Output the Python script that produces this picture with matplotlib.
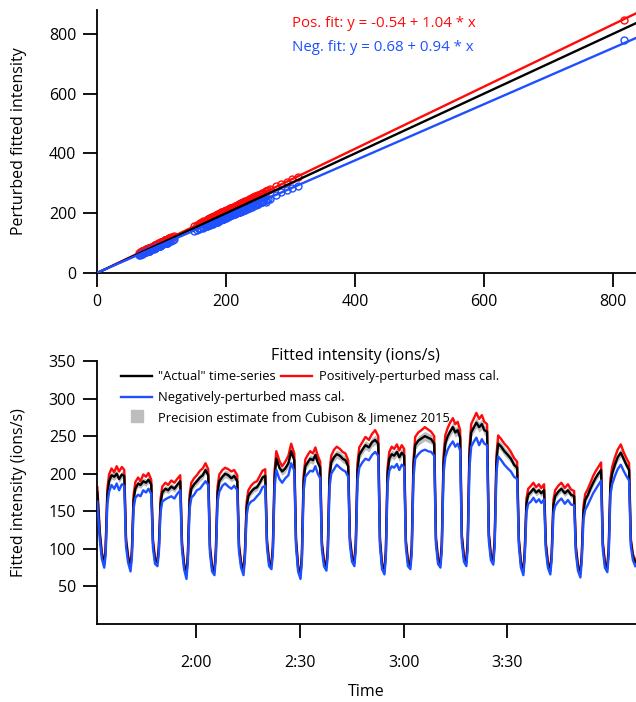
import numpy as np
import matplotlib
matplotlib.use("Agg")
import matplotlib.pyplot as plt
from matplotlib.lines import Line2D
from matplotlib.ticker import FuncFormatter

plt.rcParams['font.family'] = ['Open Sans', 'DejaVu Sans']

# time in minutes after midnight (one row per cycle)
time_min = [
    91.3, 92.0, 92.6,
    93.3, 93.7, 94.2, 94.7, 95.4, 96.2, 96.9, 97.6, 98.4, 99.1, 99.6, 100.2,
    100.9, 101.3, 101.8, 102.3, 103.1, 103.8, 104.6, 105.4, 106.1, 106.9, 107.4, 108.0,
    108.7, 109.1, 109.6, 110.1, 111.0, 111.8, 112.7, 113.6, 114.4, 115.3, 115.8, 116.4,
    117.1, 117.5, 118.0, 118.5, 119.3, 120.1, 121.0, 121.8, 122.6, 123.4, 123.9, 124.5,
    125.2, 125.6, 126.1, 126.6, 127.5, 128.3, 129.2, 130.1, 130.9, 131.8, 132.3, 132.9,
    133.6, 134.0, 134.5, 135.0, 135.8, 136.6, 137.5, 138.3, 139.1, 139.9, 140.4, 141.0,
    141.7, 142.1, 142.6, 143.1, 144.0, 144.8, 145.7, 146.6, 147.4, 148.3, 148.8, 149.4,
    150.1, 150.5, 151.0, 151.5, 152.2, 152.9, 153.7, 154.4, 155.1, 155.8, 156.3, 156.9,
    157.6, 158.0, 158.5, 159.0, 159.8, 160.6, 161.5, 162.3, 163.1, 163.9, 164.4, 165.0,
    165.7, 166.1, 166.6, 167.1, 168.0, 168.9, 169.9, 170.8, 171.7, 172.6, 173.1, 173.7,
    174.4, 174.8, 175.3, 175.8, 176.5, 177.2, 178.0, 178.7, 179.4, 180.1, 180.6, 181.2,
    181.9, 182.3, 182.8, 183.3, 184.2, 185.1, 186.1, 187.0, 187.9, 188.8, 189.3, 189.9,
    190.6, 191.0, 191.5, 192.0, 192.7, 193.4, 194.2, 194.9, 195.6, 196.3, 196.8, 197.4,
    198.1, 198.5, 199.0, 199.5, 200.3, 201.0, 201.8, 202.6, 203.3, 204.1, 204.6, 205.2,
    205.9, 206.3, 206.8, 207.3, 208.2, 209.1, 210.1, 211.0, 211.9, 212.8, 213.3, 213.9,
    214.6, 215.0, 215.5, 216.0, 216.8, 217.5, 218.3, 219.1, 219.8, 220.6, 221.1, 221.7,
    222.4, 222.8, 223.3, 223.8, 224.7, 225.6, 226.6, 227.5, 228.4, 229.3, 229.8, 230.4,
    231.1, 231.5, 232.0, 232.5, 233.3, 234.0, 234.8, 235.6, 236.3, 237.1, 237.6, 238.2,
    238.9, 239.3, 239.8, 240.3, 241.1, 241.9, 242.8, 243.6, 244.4, 245.2, 245.7, 246.3,
    247.0,
]

actual = [
    175, 120, 92,
    80, 98, 172, 190, 198, 196, 200, 193, 199, 197, 110, 88,
    75, 95, 165, 180, 187, 185, 190, 188, 192, 186, 108, 85,
    82, 100, 160, 175, 180, 178, 183, 180, 185, 190, 105, 78,
    66, 90, 165, 180, 186, 190, 195, 198, 205, 198, 100, 75,
    70, 95, 175, 190, 196, 200, 198, 194, 197, 190, 102, 80,
    70, 92, 155, 170, 176, 180, 182, 188, 195, 197, 108, 82,
    78, 100, 195, 220, 208, 203, 207, 214, 230, 218, 110, 75,
    65, 90, 190, 210, 215, 220, 218, 225, 215, 208, 105, 82,
    76, 98, 195, 215, 222, 226, 224, 220, 218, 210, 112, 88,
    82, 105, 205, 225, 232, 238, 235, 242, 245, 240, 110, 78,
    71, 95, 200, 220, 226, 224, 229, 222, 228, 224, 108, 82,
    78, 100, 210, 238, 244, 247, 250, 248, 246, 240, 112, 85,
    80, 105, 215, 240, 250, 256, 262, 255, 258, 248, 115, 88,
    82, 108, 225, 255, 262, 268, 262, 266, 258, 256, 118, 90,
    84, 110, 215, 240, 236, 230, 225, 220, 212, 208, 110, 80,
    70, 95, 160, 172, 176, 180, 175, 178, 174, 178, 105, 80,
    71, 92, 158, 170, 176, 180, 174, 178, 172, 170, 100, 76,
    67, 90, 150, 165, 172, 180, 188, 195, 200, 205, 105, 80,
    74, 98, 185, 200, 212, 222, 228, 220, 212, 205, 110, 90,
    82,
]

pos_pert = [
    182, 124, 95,
    83, 102, 180, 199, 207, 202, 210, 203, 209, 205, 115, 91,
    78, 99, 172, 189, 195, 190, 199, 196, 201, 192, 112, 88,
    85, 104, 167, 183, 188, 185, 191, 188, 193, 198, 109, 81,
    68, 93, 172, 188, 194, 198, 204, 207, 214, 206, 104, 78,
    72, 98, 183, 199, 205, 208, 206, 203, 205, 198, 106, 83,
    72, 95, 162, 178, 184, 188, 190, 197, 204, 206, 112, 85,
    81, 104, 204, 230, 217, 210, 216, 224, 240, 227, 114, 78,
    67, 93, 198, 219, 225, 230, 227, 235, 224, 216, 109, 85,
    79, 102, 203, 224, 232, 236, 233, 229, 227, 218, 116, 91,
    85, 109, 214, 235, 242, 249, 245, 253, 258, 250, 114, 81,
    73, 98, 208, 229, 236, 233, 239, 231, 238, 233, 112, 85,
    81, 104, 219, 249, 255, 258, 262, 259, 256, 250, 116, 88,
    83, 109, 224, 251, 261, 268, 274, 266, 269, 258, 119, 91,
    85, 112, 235, 266, 274, 281, 273, 278, 269, 266, 122, 93,
    87, 114, 224, 251, 246, 240, 235, 229, 221, 216, 114, 83,
    72, 98, 167, 180, 184, 188, 182, 186, 181, 186, 109, 83,
    73, 95, 165, 178, 184, 188, 181, 186, 179, 177, 104, 79,
    69, 93, 157, 173, 180, 188, 197, 204, 209, 215, 109, 83,
    77, 102, 193, 209, 222, 232, 239, 229, 221, 214, 114, 93,
    85,
]

neg_pert = [
    163, 113, 87,
    75, 92, 160, 176, 185, 180, 187, 178, 186, 184, 103, 82,
    70, 89, 154, 168, 172, 170, 178, 175, 180, 173, 101, 80,
    77, 94, 149, 163, 166, 168, 170, 167, 173, 178, 99, 73,
    60, 84, 153, 168, 172, 178, 180, 185, 190, 185, 94, 70,
    65, 89, 163, 176, 184, 187, 183, 180, 184, 178, 96, 75,
    65, 86, 144, 158, 163, 165, 170, 174, 182, 184, 102, 77,
    73, 94, 181, 205, 193, 188, 194, 198, 214, 204, 104, 70,
    60, 84, 177, 196, 200, 204, 203, 210, 200, 194, 99, 77,
    71, 92, 182, 200, 206, 212, 208, 205, 203, 196, 106, 83,
    77, 99, 190, 208, 215, 220, 218, 225, 229, 224, 104, 73,
    66, 89, 186, 204, 210, 208, 213, 205, 212, 209, 102, 77,
    73, 94, 195, 220, 226, 230, 232, 230, 229, 224, 106, 80,
    75, 99, 200, 222, 232, 238, 243, 236, 240, 231, 108, 83,
    77, 101, 208, 236, 243, 248, 238, 246, 240, 238, 111, 85,
    79, 104, 200, 223, 218, 212, 207, 203, 196, 193, 104, 75,
    65, 89, 149, 160, 163, 168, 162, 166, 161, 166, 99, 75,
    66, 86, 147, 157, 163, 167, 160, 165, 159, 158, 94, 71,
    62, 84, 139, 152, 159, 166, 174, 180, 185, 191, 99, 75,
    69, 92, 172, 186, 197, 206, 212, 204, 197, 191, 104, 85,
    77,
]

# points outside the plotted time window (only in the scatter)
extra_actual = [278, 286, 294, 302, 312, 818]
extra_pos = [290, 298, 306, 316, 322, 848]
extra_neg = [262, 270, 277, 284, 292, 780]

# fit results
pos_fit = (-0.54, 1.04)
neg_fit = (0.68, 0.94)
precision_frac = 0.025

red = '#ff0a0a'
blue = '#1f50ff'

t = np.array(time_min)
a = np.array(actual)
p = np.array(pos_pert)
n = np.array(neg_pert)

fig = plt.figure(figsize=(6.36, 7.02), dpi=100)
ax1 = fig.add_axes([0.1525, 0.6111, 0.8475, 0.3746])
ax2 = fig.add_axes([0.1525, 0.1111, 0.8475, 0.3746])
ax2.patch.set_alpha(0)
ax1.set_zorder(3)
ax1.patch.set_alpha(0)

for ax in (ax1, ax2):
    ax.spines['top'].set_visible(False)
    ax.spines['right'].set_visible(False)
    ax.spines['left'].set_linewidth(1.3)
    ax.spines['bottom'].set_linewidth(1.3)
    ax.tick_params(direction='out', length=10, width=1.3, labelsize=11.5, pad=5)

# --- top: scatter of perturbed vs actual
xs = np.concatenate([a, extra_actual])
ax1.plot(xs, np.concatenate([p, extra_pos]), 'o', mfc='none', mec=red, ms=5, mew=1.0, zorder=2)
ax1.plot(xs, np.concatenate([n, extra_neg]), 'o', mfc='none', mec=blue, ms=5, mew=1.0, zorder=2)
ax1.axline((0, pos_fit[0]), slope=pos_fit[1], color=red, lw=1.7, zorder=3)
ax1.axline((0, 0), slope=1, color='black', lw=1.7, zorder=3)
ax1.axline((0, neg_fit[0]), slope=neg_fit[1], color=blue, lw=1.7, zorder=3)
ax1.set_xlim(0, 836)
ax1.set_ylim(0, 880)
ax1.set_xticks([0, 200, 400, 600, 800])
ax1.set_yticks([0, 200, 400, 600, 800])
ax1.set_ylabel('Perturbed fitted intensity', fontsize=11.5)
ax1.yaxis.set_label_coords(-0.13, 0.5)
ax1.set_xlabel('Fitted intensity (ions/s)', fontsize=11.5)
ax1.xaxis.set_label_coords(0.48, -0.285)
ax1.text(0.362, 0.947, 'Pos. fit: y = %.2f + %.2f * x' % pos_fit, color=red,
         fontsize=10.8, transform=ax1.transAxes, va='center')
ax1.text(0.362, 0.856, 'Neg. fit: y = %.2f + %.2f * x' % neg_fit, color=blue,
         fontsize=10.8, transform=ax1.transAxes, va='center')

# --- bottom: time series
ax2.fill_between(t, a * (1 - precision_frac), a * (1 + precision_frac), color='#bdbdbd', lw=0, zorder=1)
ax2.plot(t, p, color=red, lw=1.7, zorder=2)
ax2.plot(t, a, color='black', lw=1.7, zorder=3)
ax2.plot(t, n, color=blue, lw=1.7, zorder=4)
ax2.set_xlim(91.2, 247.2)
ax2.set_ylim(0, 350)
ax2.set_yticks([50, 100, 150, 200, 250, 300, 350])
ax2.set_xticks([120, 150, 180, 210])
ax2.xaxis.set_major_formatter(FuncFormatter(lambda v, pos: '%d:%02d' % (v // 60, v % 60)))
ax2.tick_params(axis='x', pad=12)
ax2.set_ylabel('Fitted intensity (ions/s)', fontsize=11.5)
ax2.yaxis.set_label_coords(-0.13, 0.5)
ax2.set_xlabel('Time', fontsize=11.5, labelpad=10)

h_act = Line2D([], [], color='black', lw=1.7)
h_pos = Line2D([], [], color=red, lw=1.7)
h_neg = Line2D([], [], color=blue, lw=1.7)
h_prec = Line2D([], [], marker='s', color='#bdbdbd', ls='none', ms=8)
leg_kw = dict(frameon=False, fontsize=9.3, handlelength=2.4, handletextpad=0.5,
              borderaxespad=0, labelspacing=0.5)
leg1 = ax2.legend([h_act, h_pos], ['"Actual" time-series', 'Positively-perturbed mass cal.'],
                  ncol=2, columnspacing=0.4, loc='upper left',
                  bbox_to_anchor=(0.035, 0.985), **leg_kw)
ax2.add_artist(leg1)
ax2.legend([h_neg, h_prec], ['Negatively-perturbed mass cal.', 'Precision estimate from Cubison & Jimenez 2015'],
           loc='upper left', bbox_to_anchor=(0.035, 0.905), **leg_kw)

fig.savefig('out.png', dpi=100)
